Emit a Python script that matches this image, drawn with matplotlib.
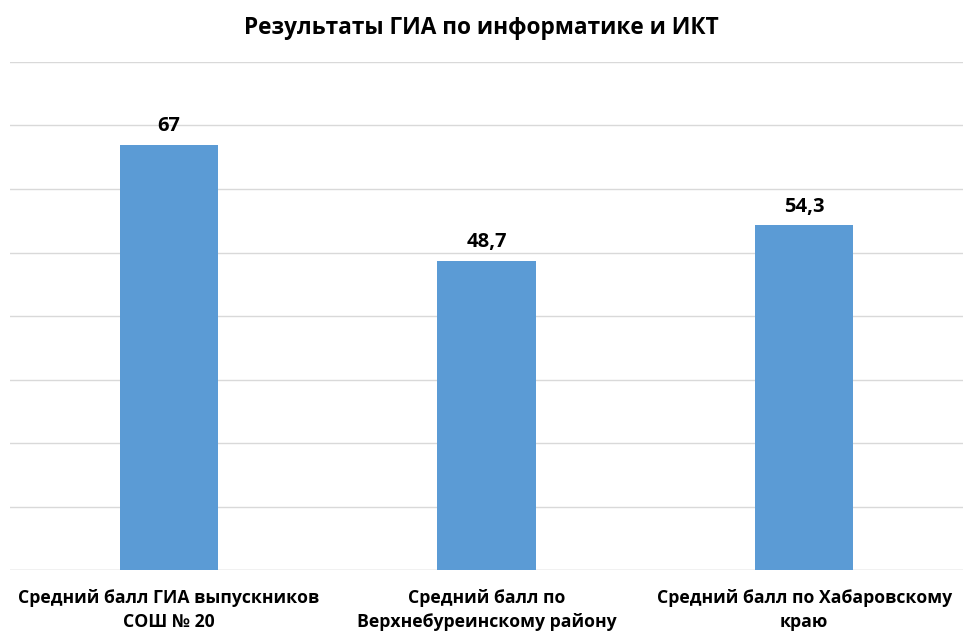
import matplotlib
matplotlib.use("Agg")
import matplotlib.pyplot as plt
from matplotlib import font_manager

categories = ["Средний балл ГИА выпускников\nСОШ № 20",
              "Средний балл по\nВерхнебуреинскому району",
              "Средний балл по Хабаровскому\nкраю"]
values = [67, 48.7, 54.3]
value_labels = ["67", "48,7", "54,3"]

names = {f.name for f in font_manager.fontManager.ttflist}
fam = "Liberation Sans Narrow" if "Liberation Sans Narrow" in names else "Open Sans"
plt.rcParams['font.family'] = [fam, 'DejaVu Sans']

fig = plt.figure(figsize=(9.63, 6.35), dpi=100)
ax = fig.add_axes([10/963, 65/635, 953/963, 508/635])
x = list(range(len(categories)))
ax.bar(x, values, width=0.31, color="#5B9BD5", zorder=2)
ax.set_xlim(-0.5, 2.5)
ax.set_ylim(0, 80)
ax.set_yticks(range(0, 81, 10))
ax.yaxis.grid(True, color="#D9D9D9", linewidth=1.0, zorder=0)
ax.tick_params(axis='y', left=False, labelleft=False)
ax.tick_params(axis='x', bottom=False, pad=10)
ax.set_xticks(x)
ax.set_xticklabels(categories, fontsize=12.7, fontweight='bold', color="#000000", linespacing=1.45)
for s in ax.spines.values():
    s.set_visible(False)
ax.axhline(0, color="#D9D9D9", linewidth=1.0, zorder=1)
for xi, v, lab in zip(x, values, value_labels):
    ax.annotate(lab, (xi, v), xytext=(0, 6), textcoords='offset points',
                ha='center', va='bottom', fontsize=14.5, fontweight='bold')
fig.text(0.5, 1 - 28/635, "Результаты ГИА по информатике и ИКТ", ha='center', va='center',
         fontsize=16.3, fontweight='bold')
fig.savefig("out.png", dpi=100)
